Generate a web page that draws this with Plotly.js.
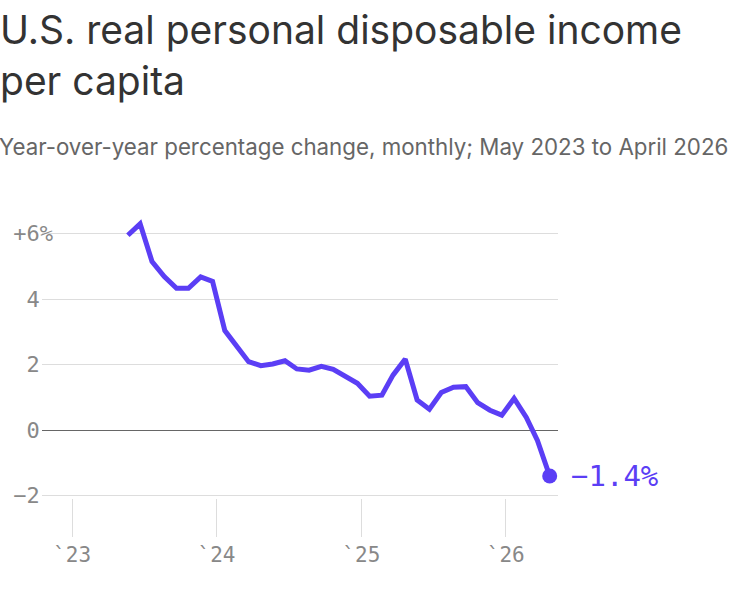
<!DOCTYPE html>
<html>
<head>
<meta charset="utf-8">
<script src="https://cdn.plot.ly/plotly-3.0.1.min.js"></script>
<style>
  html, body { margin: 0; padding: 0; background: #fff; }
  #plot { width: 750px; height: 604px; }
</style>
</head>
<body>
<div id="plot"></div>
<script>
// Meses de los datos (mayo 2023 a abril 2026)
var months = [
    '2023-05', '2023-06', '2023-07', '2023-08', '2023-09', '2023-10', '2023-11', '2023-12',
    '2024-01', '2024-02', '2024-03', '2024-04', '2024-05', '2024-06', '2024-07', '2024-08',
    '2024-09', '2024-10', '2024-11', '2024-12',
    '2025-01', '2025-02', '2025-03', '2025-04', '2025-05', '2025-06', '2025-07', '2025-08',
    '2025-09', '2025-10', '2025-11', '2025-12',
    '2026-01', '2026-02', '2026-03', '2026-04'
];

// Variacion interanual, %
var change = [
    5.95, 6.30, 5.15, 4.69, 4.33, 4.33, 4.68, 4.54,
    3.04, 2.57, 2.09, 1.97, 2.02, 2.12, 1.87, 1.83,
    1.95, 1.86, 1.63, 1.43,
    1.04, 1.07, 1.68, 2.17, 0.92, 0.64, 1.15, 1.31,
    1.33, 0.84, 0.61, 0.46,
    0.97, 0.39, -0.31, -1.40
];

var yTicks = [-2, 0, 2, 4, 6];
var yLabels = ['\u22122\u00a0', '0\u00a0', '2\u00a0', '4\u00a0', '+6%'];
var xTicks = ['2023-01-01', '2024-01-01', '2025-01-01', '2026-01-01'];
var xLabels = ['`23', '`24', '`25', '`26'];
var lastLabel = '\u22121.4%';

(function (document, window) {
    document.addEventListener("DOMContentLoaded", function () {
        var purple = '#5b3ef5';
        var mono = '"DejaVu Sans Mono", "Liberation Mono", monospace';
        var sans = 'Inter, "Noto Sans", sans-serif';

        // los puntos se dibujan hacia fin de mes, como en el original
        var dates = months.map(function (m) { return m + '-22'; });
        var n = dates.length;

        var line = {
            x: dates, y: change, type: 'scatter', mode: 'lines',
            line: { color: purple, width: 5 },
            hoverinfo: 'skip'
        };
        var lastPoint = {
            x: [dates[n - 1]], y: [change[n - 1]], type: 'scatter', mode: 'markers',
            marker: { color: purple, size: 15 },
            hoverinfo: 'skip'
        };

        var layout = {
            width: 750, height: 604,
            margin: { l: 42, r: 192, t: 214, b: 106 },
            paper_bgcolor: '#fff', plot_bgcolor: '#fff',
            showlegend: false,
            font: { family: mono, color: '#888', size: 20 },
            title: {
                text: 'U.S. real personal disposable income<br>per capita',
                font: { family: sans, size: 39, color: '#333' },
                x: 0, xref: 'container', xanchor: 'left',
                y: 1 - 44 / 604, yref: 'container', yanchor: 'top'
            },
            xaxis: {
                type: 'date',
                range: ['2022-10-17', '2026-05-13'],
                tickvals: xTicks, ticktext: xLabels,
                showgrid: false, zeroline: false, showline: false,
                ticks: 'outside', ticklen: 38, tickcolor: '#ddd', tickwidth: 1,
                tickfont: { family: mono, size: 21, color: '#888' }
            },
            yaxis: {
                range: [-2.07, 6.6],
                tickvals: yTicks, ticktext: yLabels,
                showgrid: true, gridcolor: '#ddd', gridwidth: 1,
                zeroline: true, zerolinecolor: '#666', zerolinewidth: 1,
                showline: false, ticks: '',
                ticklabelstandoff: -12,
                tickfont: { family: mono, size: 22, color: '#888' }
            },
            annotations: [
                {
                    text: 'Year-over-year percentage change, monthly; May 2023 to April 2026',
                    xref: 'paper', yref: 'paper',
                    x: -45 / 516, y: 1 + (214 - 131) / 284,
                    xanchor: 'left', yanchor: 'top', showarrow: false,
                    font: { family: sans, size: 22.3, color: '#666' }
                },
                {
                    text: lastLabel,
                    x: dates[n - 1], y: change[n - 1],
                    xanchor: 'left', yanchor: 'middle', xshift: 19, showarrow: false,
                    font: { family: mono, size: 29, color: purple }
                }
            ]
        };

        Plotly.newPlot('plot', [line, lastPoint], layout, { displayModeBar: false, staticPlot: true });
    });
})(document, window);
</script>
</body>
</html>
